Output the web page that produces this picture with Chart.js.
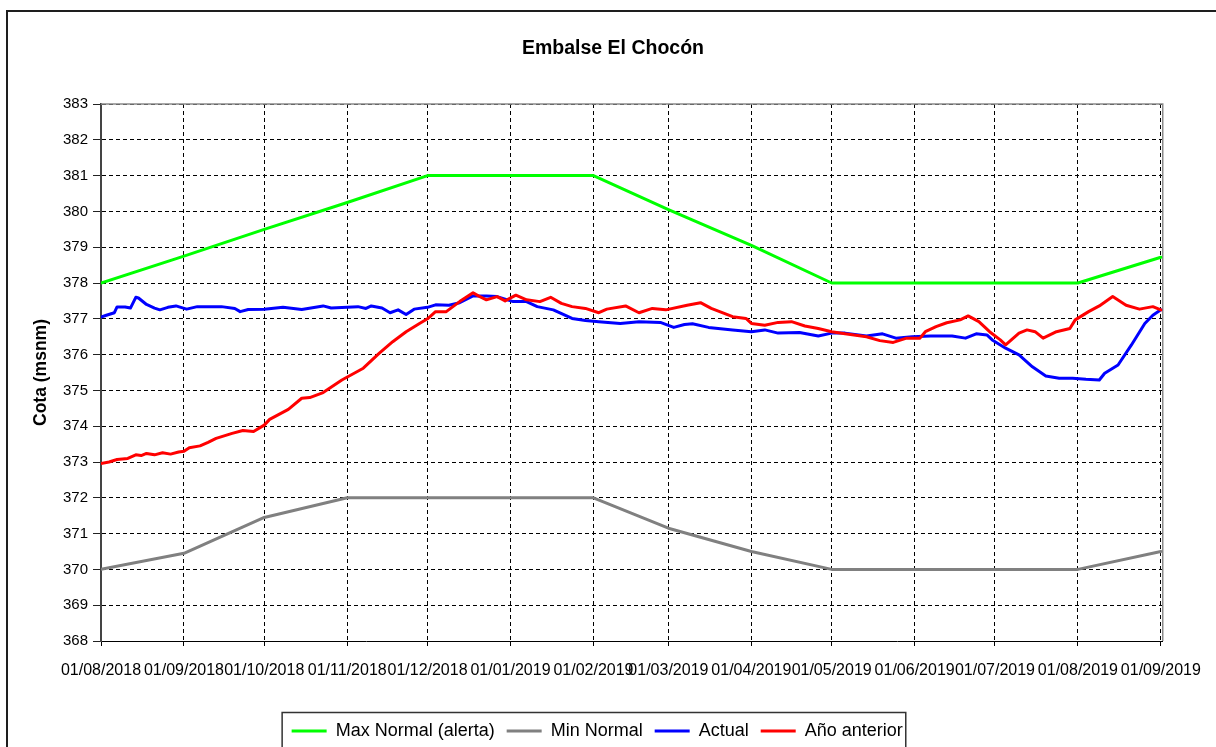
<!DOCTYPE html>
<html><head><meta charset="utf-8">
<script src="https://cdn.jsdelivr.net/npm/chart.js@4/dist/chart.umd.min.js"></script>
<style>
html,body{margin:0;padding:0;background:#fff;overflow:hidden;width:1216px;height:747px}
#wrap{position:absolute;left:0;top:0;width:1216px;height:770px}
</style></head><body>
<div id="wrap"><canvas id="c" width="1216" height="770"></canvas></div>
<script>
// Tick labels (month starts) and their day offsets from 01/08/2018
const monthLabels = ['01/08/2018','01/09/2018','01/10/2018','01/11/2018','01/12/2018','01/01/2019','01/02/2019','01/03/2019','01/04/2019','01/05/2019','01/06/2019','01/07/2019','01/08/2019','01/09/2019'];
const monthDays = [0,31,61,92,122,153,184,212,243,273,304,334,365,396];

// Max Normal (alerta)
const maxNormalDays   = [0, 31, 61, 92, 122, 184, 212, 243, 273, 365, 396];
const maxNormalValues = [378, 378.75, 379.5, 380.25, 381, 381, 380.05, 379.05, 378, 378, 378.72];

// Min Normal
const minNormalDays   = [0, 31, 61, 92, 184, 212, 243, 273, 365, 396];
const minNormalValues = [370, 370.45, 371.45, 372, 372, 371.15, 370.5, 370, 370, 370.5];

// Actual
const actualDays = [0,2,5,6,9,11,13,14,17,20,22,25,28,32,36,45,50,52,55,61,68,75,83,86,96,99,101,105,108,111,114,117,122,125,130,134,139,144,148,154,159,163,169,176,181,186,194,201,209,214,218,221,227,236,243,248,253,261,268,273,278,286,292,297,303,310,318,323,327,331,333,338,343,348,353,358,363,368,373,375,380,385,390,393,396];
const actualValues = [377.05,377.1,377.17,377.33,377.33,377.3,377.6,377.58,377.4,377.3,377.25,377.32,377.36,377.27,377.34,377.34,377.29,377.2,377.26,377.27,377.32,377.26,377.36,377.3,377.34,377.29,377.36,377.3,377.17,377.25,377.12,377.27,377.32,377.39,377.38,377.45,377.64,377.64,377.62,377.48,377.48,377.34,377.25,377.01,376.95,376.92,376.87,376.92,376.9,376.76,376.84,376.86,376.76,376.69,376.64,376.69,376.6,376.62,376.52,376.6,376.6,376.52,376.58,376.46,376.5,376.52,376.52,376.46,376.58,376.55,376.41,376.18,375.99,375.66,375.4,375.34,375.34,375.31,375.29,375.48,375.71,376.27,376.87,377.1,377.25];

// Año anterior
const prevDays = [0,3,6,10,13,15,17,20,23,26,29,31,33,37,40,43,49,53,57,61,63,70,75,78,83,90,98,104,109,114,119,122,125,129,134,139,141,144,148,151,155,159,164,168,172,176,181,186,189,196,201,206,211,219,224,228,236,241,243,248,253,258,263,268,273,278,286,291,296,301,306,308,312,316,321,324,328,332,336,338,343,346,349,352,357,362,364,369,373,378,383,388,393,396];
const prevValues = [372.96,373.0,373.07,373.1,373.2,373.18,373.24,373.2,373.26,373.22,373.28,373.3,373.4,373.45,373.55,373.66,373.8,373.88,373.85,374.03,374.19,374.47,374.78,374.8,374.94,375.29,375.62,376.04,376.36,376.64,376.87,377.0,377.2,377.2,377.48,377.73,377.64,377.53,377.62,377.5,377.66,377.53,377.48,377.6,377.43,377.34,377.29,377.17,377.27,377.36,377.17,377.29,377.25,377.38,377.45,377.29,377.06,377.01,376.87,376.82,376.9,376.92,376.8,376.73,376.64,376.58,376.5,376.39,376.34,376.46,376.46,376.64,376.78,376.89,376.97,377.08,376.92,376.64,376.41,376.27,376.6,376.69,376.64,376.46,376.64,376.73,376.97,377.2,377.36,377.62,377.38,377.27,377.34,377.25];

const seriesNames = ['Max Normal (alerta)', 'Min Normal', 'Actual', 'Año anterior'];
const yTickMin = 368, yTickMax = 383;

const pts = (xs, ys) => xs.map((x, i) => ({x: x, y: ys[i]}));

Chart.defaults.font.family = "'Liberation Sans', Arial, sans-serif";
Chart.defaults.color = '#000';

const decor = {
  id: 'decor',
  afterLayout(chart) {
    const tb = chart.titleBlock;
    if (tb) { const dx = 613 - (tb.left + tb.right) / 2; tb.left += dx; tb.right += dx; }
  },
  beforeDraw(chart) {
    const ctx = chart.ctx;
    ctx.save();
    ctx.fillStyle = '#fff';
    ctx.fillRect(0, 0, chart.width, chart.height);
    ctx.strokeStyle = '#1e1e1e';
    ctx.lineWidth = 2;
    ctx.strokeRect(7, 11, 1260, 820);
    ctx.restore();
  },
  beforeDatasetsDraw(chart) {
    const a = chart.chartArea, ctx = chart.ctx;
    ctx.save();
    ctx.strokeStyle = '#8a8a8a';
    ctx.lineWidth = 1.5;
    ctx.beginPath();
    ctx.moveTo(a.left, a.top);
    ctx.lineTo(a.right, a.top);
    ctx.lineTo(a.right, a.bottom);
    ctx.stroke();
    ctx.restore();
  },
  afterDraw(chart) {
    const lg = chart.legend;
    if (!lg || !lg.legendHitBoxes || !lg.legendHitBoxes.length) return;
    const hb = lg.legendHitBoxes;
    const last = hb[hb.length - 1];
    const left = hb[0].left - 9.5, right = last.left + last.width + 3;
    const ctx = chart.ctx;
    ctx.save();
    ctx.strokeStyle = '#333';
    ctx.lineWidth = 1.5;
    ctx.strokeRect(left, 712.5, right - left, 80);
    ctx.restore();
  }
};

new Chart(document.getElementById('c'), {
  type: 'line',
  data: {
    datasets: [
      {label: seriesNames[0], data: pts(maxNormalDays, maxNormalValues), borderColor: '#00ff00', backgroundColor: '#00ff00', pointBorderWidth: 3, order: 4},
      {label: seriesNames[1], data: pts(minNormalDays, minNormalValues), borderColor: '#808080', backgroundColor: '#808080', pointBorderWidth: 3, order: 3},
      {label: seriesNames[2], data: pts(actualDays, actualValues), borderColor: '#0000ff', backgroundColor: '#0000ff', pointBorderWidth: 3, order: 2},
      {label: seriesNames[3], data: pts(prevDays, prevValues), borderColor: '#ff0000', backgroundColor: '#ff0000', pointBorderWidth: 3, order: 1}
    ]
  },
  options: {
    responsive: false,
    animation: false,
    events: [],
    elements: {
      point: {radius: 0},
      line: {borderWidth: 3, tension: 0, borderJoinStyle: 'round', borderCapStyle: 'round'}
    },
    layout: {padding: {left: 30.4, right: 52, top: 12, bottom: 20}},
    plugins: {
      title: {
        display: true,
        text: 'Embalse El Chocón',
        color: '#000',
        font: {size: 19.5, weight: 'bold', lineHeight: 1.2},
        padding: {top: 25, bottom: 43.6}
      },
      legend: {
        position: 'bottom',
        labels: {
          usePointStyle: true,
          pointStyle: 'line',
          pointStyleWidth: 35,
          boxHeight: 18,
          padding: 12,
          color: '#000',
          font: {size: 18},
          sort: (a, b) => a.datasetIndex - b.datasetIndex
        }
      },
      tooltip: {enabled: false}
    },
    scales: {
      x: {
        type: 'linear',
        min: 0,
        max: 396.7,
        afterBuildTicks: (s) => { s.ticks = monthDays.map(v => ({value: v})); },
        afterFit: (s) => { s.height = 69; },
        ticks: {
          autoSkip: false,
          maxRotation: 0,
          minRotation: 0,
          padding: 15,
          font: {size: 16},
          color: '#000',
          callback: (v, i) => monthLabels[i]
        },
        grid: {color: '#000', lineWidth: 1, tickLength: 5, tickColor: '#000', tickWidth: 1},
        border: {display: true, color: '#000', width: 1, dash: [4, 3]}
      },
      y: {
        type: 'linear',
        min: yTickMin,
        max: yTickMax,
        afterFit: (s) => { s.width = 70.6; },
        ticks: {stepSize: 1, padding: 5, font: {size: 15}, color: '#000'},
        grid: {color: '#000', lineWidth: 1, tickLength: 8, tickColor: '#222', tickWidth: 1},
        border: {display: true, color: '#444', width: 2, dash: [4, 3]},
        title: {
          display: true,
          text: 'Cota (msnm)',
          color: '#000',
          font: {size: 17.5, weight: 'bold', lineHeight: 1},
          padding: {top: 2, bottom: 0}
        }
      }
    }
  },
  plugins: [decor]
});
</script>
</body></html>
